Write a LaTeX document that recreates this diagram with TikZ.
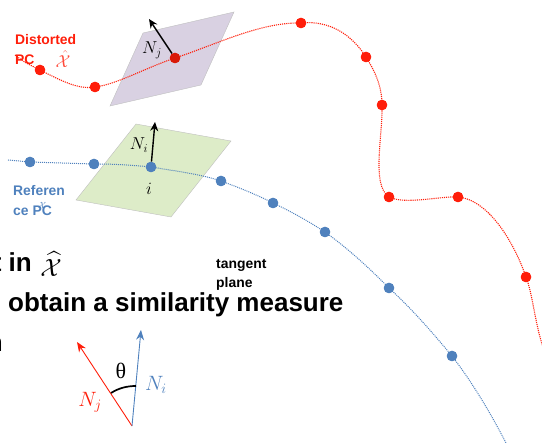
\documentclass[tikz,border=0pt]{standalone}
\usepackage{fontspec}
\setmainfont{Liberation Sans}
\newfontfamily\serifgr{Liberation Serif}
\usepackage{amsmath}
\usetikzlibrary{arrows.meta}
\definecolor{rd}{RGB}{255,30,10}
\definecolor{bl}{RGB}{79,129,189}
\definecolor{plv}{RGB}{217,209,226}
\definecolor{plg}{RGB}{221,236,200}
\tikzset{
 rdot/.style={circle,fill=rd,inner sep=0pt,minimum size=10.5pt},
 bdot/.style={circle,fill=bl,inner sep=0pt,minimum size=10.5pt},
 rcurve/.style={rd,densely dotted,line width=1.1pt},
 bcurve/.style={bl,densely dotted,line width=1pt},
 txt/.style={inner sep=0pt,font=\bfseries\fontsize{26}{26}\selectfont,anchor=base west},
 small/.style={inner sep=0pt,font=\bfseries\fontsize{13.9}{13.9}\selectfont,anchor=base west},
 lab/.style={inner sep=0pt,font=\fontsize{18}{18}\selectfont},
 normal/.style={-{Stealth[length=9pt,width=8pt]},line width=1.4pt,black},
}
\begin{document}
\begin{tikzpicture}[x=1pt,y=-1pt]
\useasboundingbox (0,0) rectangle (542,443);
\clip (0,0) rectangle (542,443);
% planes
\fill[plv,draw=gray!50,line width=.4pt] (143,33) -- (234,12) -- (201,85) -- (110,106) -- cycle;
\fill[plg,draw=gray!50,line width=.4pt] (136,124) -- (231,141) -- (171,217) -- (76,200) -- cycle;
% point nodes
\coordinate (rs) at (15,55);
\coordinate (re) at (544,350);
\coordinate (bs) at (8,160);
\coordinate (be) at (506,443);
\node[bdot] (b1) at (30,162) {};
\node[bdot] (b2) at (94,164) {};
\node[bdot] (b3) at (151,167) {};
\node[bdot] (b4) at (221,181) {};
\node[bdot] (b5) at (273,203) {};
\node[bdot] (b6) at (325,232) {};
\node[bdot] (b7) at (389,288) {};
\node[bdot] (b8) at (452,356) {};
\node[rdot] (r1) at (40,70) {};
\node[rdot] (r2) at (95,87) {};
\node[rdot,fill=rd!85!black] (r3) at (175,58) {};
\node[rdot] (r4) at (301,23) {};
\node[rdot] (r5) at (366,57) {};
\node[rdot] (r6) at (382,105) {};
\node[rdot] (r7) at (389,197) {};
\node[rdot] (r8) at (458,197) {};
\node[rdot] (r9) at (526,277) {};
% curves
\draw[rcurve] (rs) .. controls (24,62) .. (r1.center)
 .. controls (60,80) and (78,90) .. (r2.center)
 .. controls (118,84) and (145,68) .. (r3.center)
 .. controls (215,45) and (260,22) .. (r4.center)
 .. controls (330,20) and (352,35) .. (r5.center)
 .. controls (374,70) and (382,85) .. (r6.center)
 .. controls (383,135) and (371,185) .. (r7.center)
 .. controls (405,205) and (440,196) .. (r8.center)
 .. controls (490,200) and (515,245) .. (r9.center)
 .. controls (533,295) and (535,325) .. (re);
\draw[bcurve] (bs) -- (b1.center) -- (b2.center)
 .. controls (115,164) and (130,165) .. (b3.center)
 .. controls (175,171) and (200,174) .. (b4.center)
 .. controls (240,188) and (255,194) .. (b5.center)
 .. controls (292,212) and (308,221) .. (b6.center)
 .. controls (350,250) and (370,269) .. (b7.center)
 .. controls (412,309) and (432,332) .. (b8.center)
 .. controls (472,382) and (490,412) .. (be);
% node redraws over the curves
\foreach \n in {b1,b2,b3,b4,b5,b6,b7,b8}{\fill[bl] (\n) circle (5.2pt);}
\foreach \n in {r1,r2,r4,r5,r6,r7,r8,r9}{\fill[rd] (\n) circle (5.2pt);}
\fill[rd!85!black] (r3) circle (5.2pt);
% plane normals
\coordinate (nj) at (149,19);
\coordinate (ni) at (155,122);
\draw[normal] (r3) -- (nj);
\draw[normal] (b3) -- (ni);
\node[lab] (njl) at (152,50) {$N_j$};
\node[lab] (nil) at (139,145) {$N_i$};
\node[lab] (il) at (149,189) {$i$};
% labels
\node[small,text=rd] (d1) at (15,45) {Distorted};
\node[small,text=rd] (d2) at (15,65) {PC};
\node[lab,text=rd!80] (xr) at (63,59) {$\hat{\mathcal{X}}$};
\node[small,text=bl] (r1t) at (13,196) {Referen};
\node[small,text=bl] (r2t) at (13,216) {ce PC};
\node[lab,text=bl] (xb) at (42,205) {\fontsize{9}{9}\selectfont$\mathcal{X}$};
\node[txt,anchor=base east] (t1) at (32,272) {t in};
\node[inner sep=0pt,font=\fontsize{28}{28}\selectfont] (t1x) at (51,264) {$\widehat{\mathcal{X}}$};
\node[txt] (t2) at (8,312) {obtain a similarity measure};
\node[txt,anchor=base east] (t3) at (3,352) {n};
\node[small] (t4) at (216,269) {tangent};
\node[small] (t5) at (216,288) {plane};
% angle inset
\coordinate (o) at (132,426);
\coordinate (aj) at (77,342);
\coordinate (ai) at (141,330);
\draw[-{Stealth[length=10pt,width=8pt]},rd,line width=.9pt] (o) -- (aj);
\draw[-{Stealth[length=10pt,width=8pt]},bl,line width=.9pt] (o) -- (ai);
\draw[line width=1.7pt] (111,393) .. controls (119,388) and (127,386) .. (136,386);
\node[lab,font=\serifgr\fontsize{22}{22}\selectfont] (th) at (121,371) {θ};
\node[lab,text=rd,font=\fontsize{21}{21}\selectfont] (njt) at (90,402) {$N_j$};
\node[lab,text=bl,font=\fontsize{21}{21}\selectfont] (nit) at (156,385) {$N_i$};
\end{tikzpicture}
\end{document}
